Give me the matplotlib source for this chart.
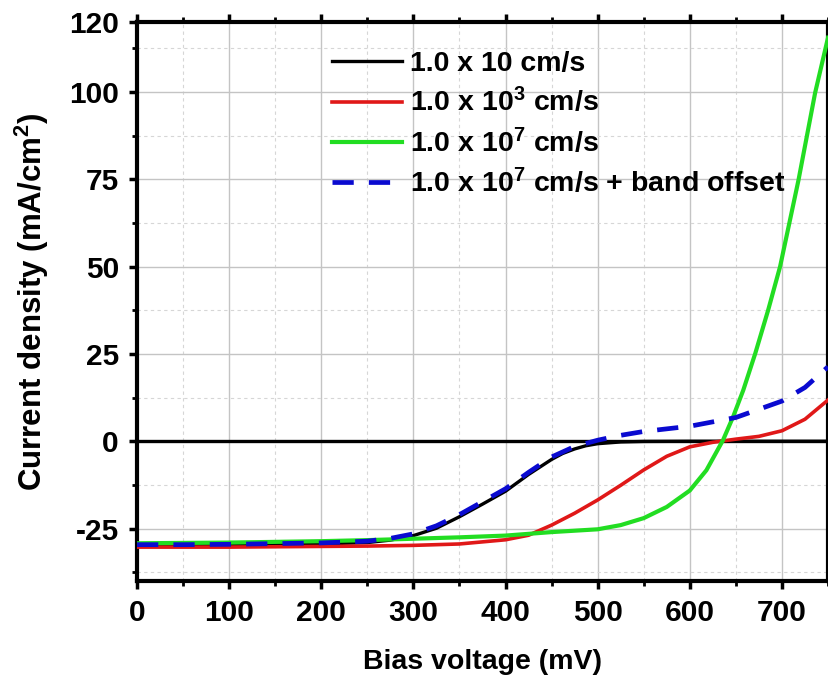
import matplotlib
matplotlib.use("Agg")
import matplotlib.pyplot as plt
from matplotlib.ticker import MultipleLocator, FixedLocator

plt.rcParams['font.family'] = ['Liberation Sans', 'DejaVu Sans']
plt.rcParams['font.weight'] = 'bold'
plt.rcParams['mathtext.fontset'] = 'custom'
plt.rcParams['mathtext.rm'] = 'Liberation Sans:bold'
plt.rcParams['mathtext.it'] = 'Liberation Sans:bold'
plt.rcParams['mathtext.bf'] = 'Liberation Sans:bold'
plt.rcParams['mathtext.default'] = 'rm'
plt.rcParams['axes.unicode_minus'] = False

# Bias voltage (mV) and current density (mA/cm^2) for each recombination velocity
v_s10 = [0, 50, 100, 150, 200, 250, 275, 300, 325, 350, 375, 400, 425, 450, 462,
         475, 487, 500, 525, 550, 600, 650, 700, 750]
j_s10 = [-29.6, -29.6, -29.5, -29.5, -29.4, -29.0, -28.3, -27.0, -24.9, -21.6,
         -18.0, -14.3, -9.5, -5.2, -3.5, -2.2, -1.3, -0.7, -0.2, -0.05, 0.0,
         0.0, 0.0, 0.0]

v_s1e3 = [0, 50, 100, 150, 200, 250, 300, 350, 400, 425, 450, 475, 500, 525,
          550, 575, 600, 625, 650, 675, 700, 725, 750]
j_s1e3 = [-30.3, -30.3, -30.3, -30.2, -30.1, -30.0, -29.8, -29.4, -28.2, -26.9,
          -24.0, -20.6, -16.8, -12.6, -8.2, -4.3, -1.6, -0.3, 0.6, 1.4, 3.0,
          6.3, 11.8]

v_s1e7 = [0, 50, 100, 150, 200, 250, 300, 350, 400, 450, 500, 525, 550, 575,
          600, 618, 636, 647, 658, 671, 685, 698, 718, 736, 750]
j_s1e7 = [-29.2, -29.1, -29.0, -28.8, -28.6, -28.3, -27.9, -27.5, -27.0, -26.0,
          -25.2, -24.0, -22.0, -18.8, -14.1, -8.3, 0.3, 7.0, 14.6, 25.1, 37.5,
          50.0, 74.8, 99.7, 115.5]

v_s1e7_bo = [0, 50, 100, 150, 200, 250, 275, 300, 325, 350, 375, 400, 425, 450,
             475, 500, 525, 550, 600, 650, 700, 725, 750]
j_s1e7_bo = [-29.6, -29.6, -29.5, -29.3, -29.1, -28.6, -27.8, -26.5, -24.2,
             -21.0, -17.3, -13.6, -8.9, -4.5, -1.5, 0.3, 1.7, 2.8, 4.3, 6.8,
             11.5, 15.4, 21.3]

labels = ['1.0 x 10 cm/s',
          '1.0 x 10$^{3}$ cm/s',
          '1.0 x 10$^{7}$ cm/s',
          '1.0 x 10$^{7}$ cm/s + band offset']

x_major = [0, 100, 200, 300, 400, 500, 600, 700]
y_major = [-25, 0, 25, 50, 75, 100, 120]
y_minor = [-37.5, -12.5, 12.5, 37.5, 62.5, 87.5, 112.5]

fig = plt.figure(figsize=(8.29, 6.77), dpi=100)
ax = fig.add_axes([0.1653, 0.1418, 0.8335, 0.8257])

ax.axhline(0, color='black', lw=2.4, zorder=1.5)
ax.plot(v_s10, j_s10, color='black', lw=2.4, label=labels[0], zorder=3)
ax.plot(v_s1e3, j_s1e3, color='#e01818', lw=2.6, label=labels[1], zorder=3)
ax.plot(v_s1e7, j_s1e7, color='#22dd22', lw=3.0, label=labels[2], zorder=3)
ax.plot(v_s1e7_bo, j_s1e7_bo, color='#0a0ad0', lw=3.4, dashes=(4.5, 3.2),
        label=labels[3], zorder=4)

ax.set_xlim(0, 750)
ax.set_ylim(-40, 120)

ax.xaxis.set_major_locator(FixedLocator(x_major))
ax.xaxis.set_minor_locator(MultipleLocator(50))
ax.yaxis.set_major_locator(FixedLocator(y_major))
ax.yaxis.set_minor_locator(FixedLocator(y_minor))

ax.grid(which='major', color='#c4c4c4', lw=1.0, ls='-', zorder=0)
ax.grid(which='minor', color='#d6d6d6', lw=0.8, ls=(0, (3, 3)), zorder=0)
ax.set_axisbelow(True)

for side in ['left', 'bottom', 'top', 'right']:
    ax.spines[side].set_linewidth(3.0)

ax.tick_params(which='major', direction='out', length=6, width=2.5,
               labelsize=21.5, pad=7, top=True, right=False)
ax.tick_params(which='minor', direction='out', length=3.5, width=2.0,
               top=True, right=False)
for lab in ax.get_xticklabels() + ax.get_yticklabels():
    lab.set_fontweight('bold')

ax.set_xlabel('Bias voltage (mV)', fontsize=20.5, fontweight='bold', labelpad=16)
ax.set_ylabel('Current density (mA/cm$^{2}$)', fontsize=22.5,
              fontweight='bold', labelpad=13)

leg = ax.legend(loc='upper left', bbox_to_anchor=(0.282, 0.948), frameon=False,
                fontsize=20.5, handlelength=2.45, handletextpad=0.3,
                labelspacing=0.36, borderpad=0, borderaxespad=0)
for t in leg.get_texts():
    t.set_fontweight('bold')

fig.savefig('out.png', dpi=100)
